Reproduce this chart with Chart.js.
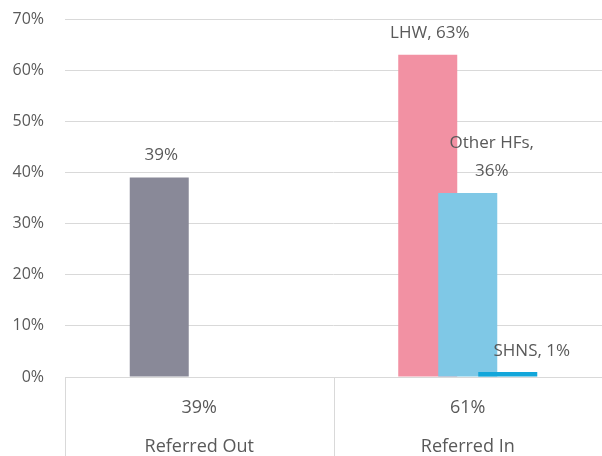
<!DOCTYPE html>
<html>
<head>
<meta charset="utf-8">
<script src="https://cdn.jsdelivr.net/npm/chart.js@4/dist/chart.umd.min.js"></script>
<style>
  html, body { margin: 0; padding: 0; background: #fff; }
  #wrap { width: 602px; height: 456px; }
</style>
</head>
<body>
<div id="wrap"><canvas id="chart"></canvas></div>
<script>
  "use strict";

  // categories and their share rows
  const categories = ["Referred Out", "Referred In"];
  const categoryShares = ["39%", "61%"];

  // one series per slot in the group
  const seriesMain = [39, 63];
  const seriesOtherHF = [null, 36];
  const seriesSHNS = [null, 1];

  const labelsMain = ["39%", "LHW, 63%"];
  const labelsOtherHF = [null, ["Other HFs,", "36%"]];
  const labelsSHNS = [null, "SHNS, 1%"];

  const yTicks = [0, 10, 20, 30, 40, 50, 60, 70];

  const FONT = "'Open Sans', sans-serif";
  const TEXT = "#595959";
  const GRID = "#d9d9d9";

  // Chart.js paints the first slot on top; the reference paints later series over earlier ones
  const drawOrder = {
    id: "drawOrder",
    beforeDatasetDraw() {
      return false;
    },
    afterDatasetsDraw(chart) {
      const n = chart.data.datasets.length;
      for (let i = 0; i < n; i++) {
        chart.getDatasetMeta(i).controller.draw();
      }
    },
  };

  const barLabels = {
    id: "barLabels",
    afterDatasetsDraw(chart, args, opts) {
      const ctx = chart.ctx;
      ctx.save();
      ctx.font = "17px " + FONT;
      ctx.fillStyle = TEXT;
      ctx.textAlign = "center";
      ctx.textBaseline = "middle";
      chart.data.datasets.forEach((ds, di) => {
        const meta = chart.getDatasetMeta(di);
        const off = opts.offsets[di] || [0, 0];
        meta.data.forEach((bar, i) => {
          const txt = ds.valueLabels[i];
          if (!txt) {
            return;
          }
          const lines = Array.isArray(txt) ? txt : [txt];
          let y = bar.y - 22 + off[1];
          for (let k = lines.length - 1; k >= 0; k--) {
            ctx.fillText(lines[k], bar.x + off[0], y);
            y -= 28;
          }
        });
      });
      ctx.restore();
    },
  };

  // category separators running down through the label rows
  const tableLines = {
    id: "tableLines",
    afterDraw(chart) {
      const x = chart.scales.x;
      const ctx = chart.ctx;
      const n = categories.length;
      const step = (x.right - x.left) / n;
      ctx.save();
      ctx.strokeStyle = GRID;
      ctx.lineWidth = 1;
      for (let i = 0; i <= n; i++) {
        const px = Math.round(x.left + step * i) + 0.5;
        ctx.beginPath();
        ctx.moveTo(px, x.top);
        ctx.lineTo(px, chart.height);
        ctx.stroke();
      }
      ctx.restore();
    },
  };

  new Chart(document.getElementById("chart"), {
    type: "bar",
    data: {
      labels: categories.map((c, i) => [categoryShares[i], c]),
      datasets: [
        {
          label: "Main",
          data: seriesMain,
          valueLabels: labelsMain,
          backgroundColor: ["#898998", "#f291a3"],
        },
        {
          label: "Other HFs",
          data: seriesOtherHF,
          valueLabels: labelsOtherHF,
          backgroundColor: "#7fc8e6",
        },
        {
          label: "SHNS",
          data: seriesSHNS,
          valueLabels: labelsSHNS,
          backgroundColor: "#12a6da",
        },
      ],
    },
    options: {
      responsive: true,
      maintainAspectRatio: false,
      animation: false,
      categoryPercentage: 0.447,
      barPercentage: 1.475,
      layout: { padding: 0 },
      plugins: {
        legend: { display: false },
        tooltip: { enabled: false },
        barLabels: { offsets: [[2, 0], [24, 0], [24, 1]] },
      },
      scales: {
        x: {
          offset: true,
          grid: { display: false },
          border: { display: true, color: GRID },
          ticks: {
            color: TEXT,
            font: { family: FONT, size: 18, lineHeight: 2.1667 },
            padding: 3,
            maxRotation: 0,
          },
          afterFit(scale) {
            scale.height = 79;
          },
        },
        y: {
          min: 0,
          max: 70,
          afterBuildTicks(scale) {
            scale.ticks = yTicks.map((v) => ({ value: v }));
          },
          grid: { color: GRID, drawTicks: false },
          border: { display: false },
          ticks: {
            color: TEXT,
            font: { family: FONT, size: 16 },
            padding: 21,
            callback: (v) => v + "%",
          },
          afterFit(scale) {
            scale.width = 65;
            scale.paddingTop = 19;
            scale.paddingBottom = 0;
          },
        },
      },
    },
    plugins: [drawOrder, barLabels, tableLines],
  });
</script>
</body>
</html>
